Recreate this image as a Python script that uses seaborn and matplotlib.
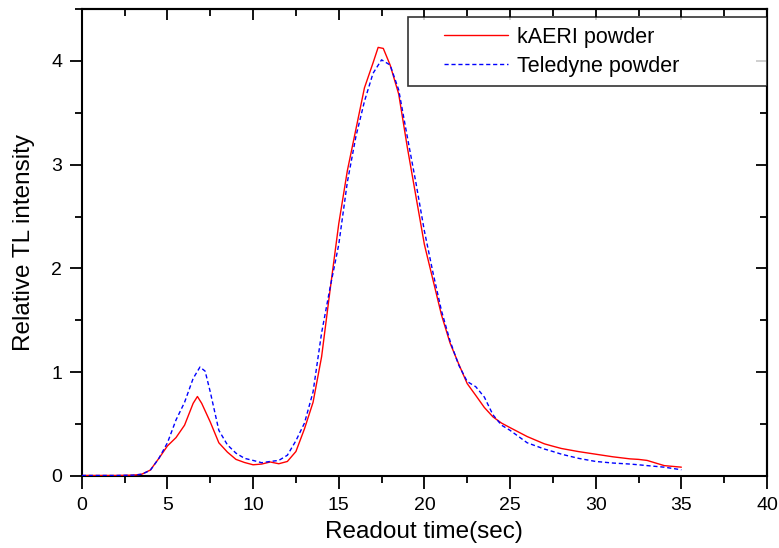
import matplotlib
matplotlib.use("Agg")
import matplotlib.pyplot as plt
from matplotlib.ticker import MultipleLocator
from matplotlib.legend_handler import HandlerLine2D
import numpy as np
import seaborn as sns
import pandas as pd

# Readout time (sec) and relative TL intensity
kaeri_time = [0, 1, 2, 3, 3.5, 4, 4.5, 5, 5.5, 6, 6.5, 6.75, 7, 7.5, 8, 8.5, 9, 9.5, 10,
              10.5, 11, 11.5, 12, 12.5, 13, 13.5, 14, 14.5, 15, 15.5, 16, 16.5, 17, 17.3,
              17.6, 18, 18.5, 19, 19.5, 20, 20.5, 21, 21.5, 22, 22.5, 23, 23.5, 24, 24.5,
              25, 26, 27, 27.5, 28, 29, 30, 31, 32, 32.5, 33, 34, 35]
kaeri_val = [0.005, 0.005, 0.005, 0.008, 0.017, 0.057, 0.17, 0.29, 0.37, 0.49, 0.70, 0.766, 0.70,
             0.52, 0.32, 0.23, 0.16, 0.13, 0.108, 0.115, 0.135, 0.118, 0.14, 0.236, 0.455,
             0.71, 1.15, 1.80, 2.43, 2.94, 3.34, 3.74, 3.98, 4.13, 4.12, 3.96, 3.68, 3.17,
             2.70, 2.23, 1.89, 1.55, 1.28, 1.08, 0.89, 0.776, 0.66, 0.57, 0.51, 0.466,
             0.38, 0.31, 0.287, 0.265, 0.235, 0.21, 0.185, 0.165, 0.16, 0.15, 0.10, 0.085]

teledyne_time = [0, 1, 2, 3, 3.5, 4, 4.5, 5, 5.5, 6, 6.5, 6.9, 7.2, 7.5, 8, 8.5, 9, 9.5,
                 10, 10.5, 11, 11.5, 12, 12.5, 13, 13.5, 14, 14.5, 15, 15.5, 16, 16.5, 17,
                 17.5, 18, 18.5, 19, 19.5, 20, 20.5, 21, 21.5, 22, 22.5, 23, 23.5, 24,
                 24.5, 25, 26, 27, 27.5, 28, 29, 30, 31, 32, 32.5, 33, 34, 35]
teledyne_val = [0.005, 0.005, 0.005, 0.008, 0.017, 0.055, 0.17, 0.32, 0.54, 0.71, 0.94, 1.05, 1.01,
                0.81, 0.44, 0.30, 0.22, 0.17, 0.15, 0.128, 0.14, 0.15, 0.20, 0.34, 0.51,
                0.81, 1.38, 1.82, 2.23, 2.83, 3.27, 3.61, 3.88, 4.01, 3.96, 3.72, 3.27,
                2.83, 2.36, 1.96, 1.59, 1.30, 1.07, 0.91, 0.86, 0.76, 0.59, 0.49, 0.44,
                0.32, 0.26, 0.236, 0.21, 0.17, 0.14, 0.125, 0.115, 0.108, 0.10, 0.085, 0.06]


class IndentedLineHandler(HandlerLine2D):
    """Legend line drawn only in the right part of the handle box (leaves a left margin)."""
    def get_xdata(self, legend, xdescent, ydescent, width, height, fontsize):
        x0 = -xdescent + width * 0.29
        x1 = -xdescent + width
        xs = np.array([x0, x1])
        return xs, xs


sns.set_style("white")
plt.rcParams['font.family'] = ['Liberation Sans', 'DejaVu Sans']
plt.rcParams['text.color'] = 'black'
plt.rcParams['axes.labelcolor'] = 'black'
plt.rcParams['xtick.color'] = 'black'
plt.rcParams['ytick.color'] = 'black'

fig = plt.figure(figsize=(7.79, 5.48), dpi=100)
ax = fig.add_axes([0.105, 0.1314, 0.8796, 0.8522])

df_k = pd.DataFrame({"t": kaeri_time, "v": kaeri_val})
df_t = pd.DataFrame({"t": teledyne_time, "v": teledyne_val})
sns.lineplot(data=df_k, x="t", y="v", ax=ax, color="#ff0000", lw=1.0, label="kAERI powder",
             zorder=3)
sns.lineplot(data=df_t, x="t", y="v", ax=ax, color="#0000ff", lw=1.0, ls=(0, (3, 2)),
             label="Teledyne powder", zorder=3)

ax.set_xlim(0, 40)
ax.set_ylim(0, 4.5)
ax.xaxis.set_major_locator(MultipleLocator(5))
ax.xaxis.set_minor_locator(MultipleLocator(2.5))
ax.yaxis.set_major_locator(MultipleLocator(1))
ax.yaxis.set_minor_locator(MultipleLocator(0.5))
ax.tick_params(which='both', direction='out', width=1.3, colors='black', labelsize=14,
               bottom=True, left=True)
ax.tick_params(which='major', length=9)
ax.tick_params(which='minor', length=5)
ax.tick_params(axis='x', pad=6)
ax.tick_params(axis='y', pad=5)

for side in ['top', 'right']:
    if side == 'top':
        sec = ax.secondary_xaxis('top')
        sec.xaxis.set_major_locator(MultipleLocator(5))
        sec.xaxis.set_minor_locator(MultipleLocator(2.5))
    else:
        sec = ax.secondary_yaxis('right')
        sec.yaxis.set_major_locator(MultipleLocator(1))
        sec.yaxis.set_minor_locator(MultipleLocator(0.5))
    sec.tick_params(which='both', direction='in', width=1.3, labelleft=False,
                    labelright=False, labeltop=False, labelbottom=False)
    sec.tick_params(which='major', length=8)
    sec.tick_params(which='minor', length=5)
    for sp in sec.spines.values():
        sp.set_linewidth(1.5)

for sp in ax.spines.values():
    sp.set_color('black')
    sp.set_linewidth(1.5)

ax.set_xlabel("Readout time(sec)", fontsize=17.5, labelpad=5, color='black')
ax.set_ylabel("Relative TL intensity", fontsize=17.5, labelpad=12, color='black')

handles, labels = ax.get_legend_handles_labels()
leg = ax.legend(handles, labels, loc='upper left', bbox_to_anchor=(0.476, 0.831, 0.524, 0.152),
                mode='expand', fontsize=15.5, frameon=True,
                fancybox=False, edgecolor='black', handlelength=4.2, borderpad=0.45,
                labelspacing=0.38, handletextpad=0.42, borderaxespad=0,
                handler_map={h: IndentedLineHandler() for h in handles})
leg.get_frame().set_linewidth(1.2)
for t in leg.get_texts():
    t.set_color('black')

fig.savefig("out.png", dpi=100)
